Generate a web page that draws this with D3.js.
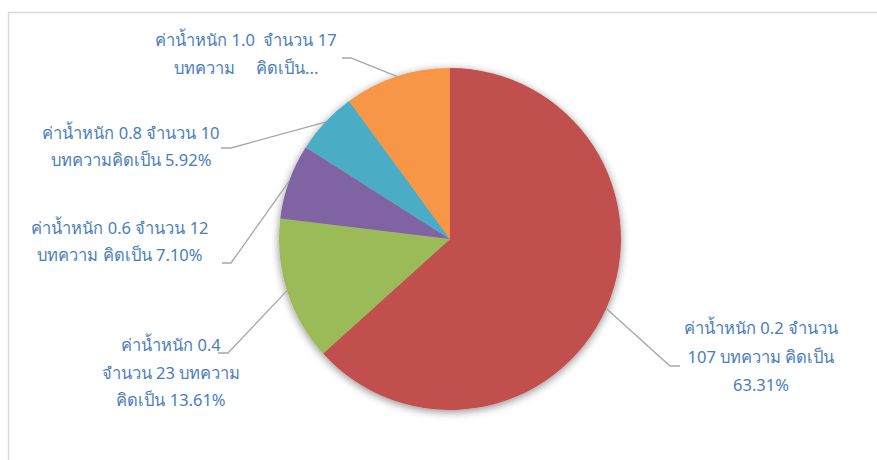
<!DOCTYPE html>
<html>
<head>
<meta charset="utf-8">
<script src="https://cdn.jsdelivr.net/npm/d3@7/dist/d3.min.js"></script>
<style>
  html, body { margin: 0; padding: 0; background: #fff; }
  svg { display: block; }
  text { font-family: Tahoma, "Noto Sans", "DejaVu Sans", sans-serif; }
</style>
</head>
<body>
<svg id="chart" width="877" height="460"></svg>
<script>
// ---- data ----
const categories = ["ค่าน้ำหนัก 0.2", "ค่าน้ำหนัก 0.4", "ค่าน้ำหนัก 0.6", "ค่าน้ำหนัก 0.8", "ค่าน้ำหนัก 1.0"];
const counts = [107, 23, 12, 10, 17];
const percentLabels = ["63.31%", "13.61%", "7.10%", "5.92%", "..."];
const labelLines = [
  ["ค่าน้ำหนัก 0.2 จำนวน", "107 บทความ คิดเป็น", "63.31%"],
  ["ค่าน้ำหนัก 0.4", "จำนวน 23 บทความ", "คิดเป็น 13.61%"],
  ["ค่าน้ำหนัก 0.6 จำนวน 12", "บทความ คิดเป็น 7.10%"],
  ["ค่าน้ำหนัก 0.8 จำนวน 10", "บทความคิดเป็น 5.92%"],
  ["ค่าน้ำหนัก 1.0  จำนวน 17", "บทความ     คิดเป็น..."]
];
const colors = ["#C0504D", "#9BBB59", "#8064A2", "#4BACC6", "#F79646"];

// ---- layout ----
const svg = d3.select("#chart");
const cx = 450, cy = 239, r = 171;

// border of chart area
svg.append("rect")
  .attr("x", 8.5).attr("y", 12.5)
  .attr("width", 900).attr("height", 500)
  .attr("fill", "none").attr("stroke", "#d9d9d9").attr("stroke-width", 1.5);

const defs = svg.append("defs");
const f = defs.append("filter").attr("id", "shadow")
  .attr("x", "-20%").attr("y", "-20%").attr("width", "140%").attr("height", "140%");
f.append("feGaussianBlur").attr("in", "SourceAlpha").attr("stdDeviation", 4).attr("result", "b");
f.append("feOffset").attr("in", "b").attr("dx", 0).attr("dy", 2).attr("result", "o");
f.append("feComponentTransfer").attr("in", "o").attr("result", "s")
  .append("feFuncA").attr("type", "linear").attr("slope", 0.45);
const m = f.append("feMerge");
m.append("feMergeNode").attr("in", "s");
m.append("feMergeNode").attr("in", "SourceGraphic");

const pie = d3.pie().sort(null).value(d => d)(counts);
const arc = d3.arc().innerRadius(0).outerRadius(r);
const color = d3.scaleOrdinal().domain(categories).range(colors);

const g = svg.append("g").attr("transform", `translate(${cx},${cy})`);
g.append("g").attr("filter", "url(#shadow)")
  .selectAll("path").data(pie).join("path")
  .attr("d", arc)
  .attr("fill", (d, i) => color(categories[i]));

// label placement (layout only)
const labelPos = [
  { x: 761, y: [330, 359, 387], elbow: [670, 366, 680] },
  { x: 171, y: [347, 375, 402], elbow: [228, 353, 218] },
  { x: 120, y: [230, 257], elbow: [231, 263, 222] },
  { x: 131, y: [135, 162], elbow: [231, 148, 221] },
  { x: 246, y: [42, 70], elbow: [351, 58, 342] }
];

const leaders = svg.append("g");
pie.forEach((d, i) => {
  const a = (d.startAngle + d.endAngle) / 2;
  const px = cx + r * Math.sin(a), py = cy - r * Math.cos(a);
  const e = labelPos[i].elbow;
  leaders.append("polyline")
    .attr("points", `${px},${py} ${e[0]},${e[1]} ${e[2]},${e[1]}`)
    .attr("fill", "none").attr("stroke", "#a6a6a6").attr("stroke-width", 1.3);
});

const labels = svg.append("g");
labelLines.forEach((lines, i) => {
  lines.forEach((t, j) => {
    labels.append("text")
      .attr("x", labelPos[i].x).attr("y", labelPos[i].y[j])
      .attr("text-anchor", "middle").attr("dominant-baseline", "middle")
      .attr("fill", "#4A7EBB").attr("font-size", 16.5)
      .style("white-space", "pre")
      .text(t);
  });
});
</script>
</body>
</html>
